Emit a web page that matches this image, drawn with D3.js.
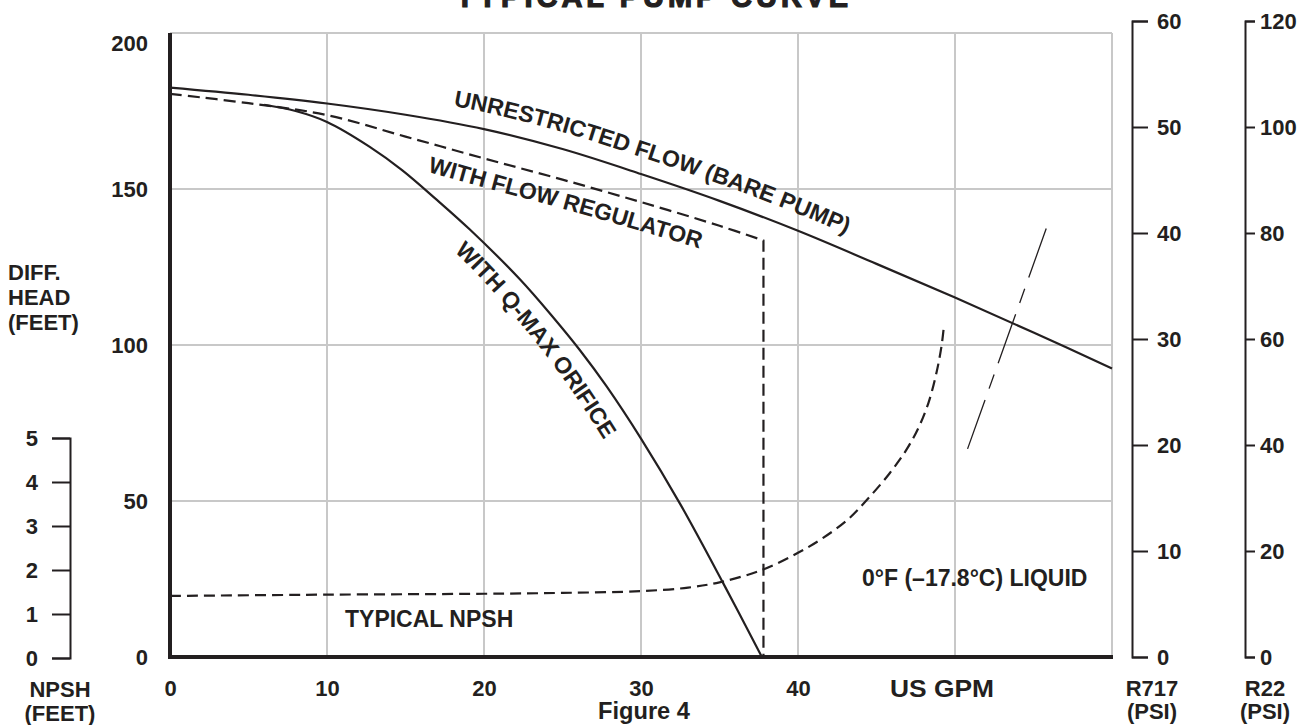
<!DOCTYPE html>
<html>
<head>
<meta charset="utf-8">
<script src="https://cdn.jsdelivr.net/npm/d3@7"></script>
<style>
  html, body { margin: 0; padding: 0; background: #fff; }
  svg { display: block; }
  text { font-family: "Liberation Sans", Arial, sans-serif; font-weight: bold; fill: #231f20; }
</style>
</head>
<body>
<svg id="chart" width="1315" height="725"></svg>
<script>
// values: [US GPM, head in feet] / [US GPM, NPSH in feet]
const gpmTicks = [0, 10, 20, 30, 40];
const headTicks = [0, 50, 100, 150, 200];
const npshTicks = [0, 1, 2, 3, 4, 5];
const r717Ticks = [0, 10, 20, 30, 40, 50, 60];
const r22Ticks = [0, 20, 40, 60, 80, 100, 120];

const unrestricted = [[0, 182.5], [5, 180.2], [10, 177.4], [15, 173.8], [20, 169.2], [25, 162.8], [30, 154.8],
  [35, 146.2], [40, 136.6], [45, 126], [50, 115.2], [55, 104], [60, 92.5]];
const regulator = [[0, 180.5], [5, 177.5], [10, 173.7], [15, 166.8], [20, 159.8], [25, 153], [30, 145.8],
  [35, 138.2], [37.8, 133.5]];
const regulatorCutoff = 37.8;
const qmax = [[6, 177], [8, 175], [10, 171.5], [12.7, 163.6], [14.8, 156], [17, 146.5], [19.1, 137],
  [22.3, 121], [24.4, 108.9], [26.1, 98.4], [27.8, 86.8], [30, 70], [32.5, 49], [35.2, 24], [37.7, 0]];
const npsh = [[0, 1.41], [10, 1.44], [20, 1.46], [25, 1.48], [30, 1.52], [33, 1.6], [35, 1.72],
  [37.7, 2.0], [40, 2.39], [41.6, 2.73], [43.15, 3.14], [44.38, 3.59], [45.84, 4.2], [46.9, 4.73],
  [47.67, 5.23], [48.31, 5.8], [48.83, 6.5], [49.15, 7.11], [49.3, 7.57]];
const cutoffLine = [[50.8, 66.7], [56, 140]];

const ink = '#231f20';
const gridColor = '#c8c8c8';

const svg = d3.select('#chart');

const x = d3.scaleLinear().domain([0, 60]).range([170, 1112]);
const y = d3.scaleLinear().domain([0, 200]).range([657, 33]);
const yNpsh = d3.scaleLinear().domain([0, 5]).range([658, 438]);
const yR717 = d3.scaleLinear().domain([0, 60]).range([657, 21]);
const yR22 = d3.scaleLinear().domain([0, 120]).range([657, 21]);

// title (clipped at top edge like the original)
svg.append('text')
  .attr('x', 652).attr('y', 7)
  .attr('text-anchor', 'middle')
  .attr('font-size', 29)
  .attr('stroke', ink).attr('stroke-width', 1.2)
  .attr('textLength', 392).attr('lengthAdjust', 'spacing')
  .text('TYPICAL  PUMP  CURVE');

// grid
const grid = svg.append('g').attr('stroke', gridColor).attr('stroke-width', 2);
grid.selectAll('.vg').data(d3.range(10, 61, 10)).enter().append('line')
  .attr('x1', d => x(d)).attr('x2', d => x(d))
  .attr('y1', y(200)).attr('y2', y(0));
grid.selectAll('.hg').data([50, 100, 150, 200]).enter().append('line')
  .attr('x1', x(0)).attr('x2', x(60))
  .attr('y1', d => y(d)).attr('y2', d => y(d));

// curves
const smooth = d3.curveCatmullRom.alpha(0.5);
const headLine = d3.line().x(d => x(d[0])).y(d => y(d[1])).curve(smooth);
const npshLine = d3.line().x(d => x(d[0])).y(d => yNpsh(d[1])).curve(smooth);

const curves = svg.append('g').attr('fill', 'none').attr('stroke', ink).attr('stroke-width', 2.2);

curves.append('path').attr('d', headLine(unrestricted));
curves.append('path')
  .attr('d', headLine(regulator) + 'L' + x(regulatorCutoff) + ',' + y(0))
  .attr('stroke-dasharray', '12 6');
curves.append('path').attr('d', headLine(qmax));
curves.append('path').attr('d', npshLine(npsh)).attr('stroke-dasharray', '11 6');
curves.append('path')
  .attr('d', d3.line().x(d => x(d[0])).y(d => y(d[1]))(cutoffLine))
  .attr('stroke-width', 1.3)
  .attr('stroke-dasharray', '52 12 15 12');

// labels that follow the curves
const defs = svg.append('defs');
function curveLabel(id, pts, dx, dy, startX, label) {
  const p = d3.line().curve(smooth)(pts.map(d => [x(d[0]) + dx, y(d[1]) + dy]));
  const node = defs.append('path').attr('id', id).attr('d', p).node();
  const total = node.getTotalLength();
  let off = 0;
  for (let l = 0; l <= total; l += 0.5) {
    if (node.getPointAtLength(l).x >= startX) { off = l; break; }
  }
  svg.append('text').attr('font-size', 23)
    .append('textPath').attr('href', '#' + id).attr('startOffset', off)
    .text(label);
}
curveLabel('lblUnres', unrestricted, 0, -17, 453, 'UNRESTRICTED FLOW (BARE PUMP)');
curveLabel('lblReg', regulator, 0, 29, 427, 'WITH FLOW REGULATOR');
curveLabel('lblQmax', qmax, -38, 0, 454, 'WITH Q-MAX ORIFICE');

svg.append('text').attr('x', 345).attr('y', 627).attr('font-size', 23).text('TYPICAL NPSH');
svg.append('text').attr('x', 862).attr('y', 586).attr('font-size', 23).text('0°F (–17.8°C) LIQUID');

// main axes: thick left and bottom lines
svg.append('line').attr('x1', x(0)).attr('x2', x(0)).attr('y1', y(200)).attr('y2', y(0) + 2)
  .attr('stroke', ink).attr('stroke-width', 4);
svg.append('line').attr('x1', x(0) - 2).attr('x2', x(60) + 1).attr('y1', y(0)).attr('y2', y(0))
  .attr('stroke', ink).attr('stroke-width', 4);

const xAxis = svg.append('g')
  .attr('transform', `translate(0,${y(0)})`)
  .call(d3.axisBottom(x).tickValues(gpmTicks).tickSize(0).tickPadding(23));
xAxis.select('.domain').remove();
xAxis.selectAll('text').attr('font-size', 22).attr('fill', ink);

svg.append('text').attr('x', x(50) - 13).attr('y', 697).attr('text-anchor', 'middle')
  .attr('font-size', 23).attr('textLength', 104).attr('lengthAdjust', 'spacingAndGlyphs')
  .text('US GPM');
svg.append('text').attr('x', x(30) + 3).attr('y', 719).attr('text-anchor', 'middle')
  .attr('font-size', 23).attr('textLength', 92).attr('lengthAdjust', 'spacingAndGlyphs')
  .text('Figure 4');

const yAxis = svg.append('g')
  .attr('transform', `translate(${x(0)},0)`)
  .call(d3.axisLeft(y).tickValues(headTicks).tickSize(0).tickPadding(22));
yAxis.select('.domain').remove();
yAxis.selectAll('text').attr('font-size', 22).attr('fill', ink)
  .attr('dy', d => d === 200 ? '0.8em' : '0.32em');

const headTitle = svg.append('text').attr('x', 8).attr('font-size', 22);
['DIFF.', 'HEAD', '(FEET)'].forEach((t, i) => {
  headTitle.append('tspan').attr('x', 8).attr('y', 280 + i * 25).text(t);
});

// NPSH scale on the left
function styleAxis(g, size) {
  g.select('.domain').attr('stroke', ink).attr('stroke-width', 2);
  g.selectAll('.tick line').attr('stroke', ink).attr('stroke-width', 2);
  g.selectAll('.tick text').attr('font-size', size).attr('fill', ink);
}
const npshAxis = svg.append('g')
  .attr('transform', 'translate(70,0)')
  .call(d3.axisLeft(yNpsh).tickValues(npshTicks).tickFormat(d3.format('d')).tickSize(18).tickPadding(14));
styleAxis(npshAxis, 22);
const npshTitle = svg.append('text').attr('text-anchor', 'middle').attr('font-size', 22);
npshTitle.append('tspan').attr('x', 60).attr('y', 697).text('NPSH');
npshTitle.append('tspan').attr('x', 60).attr('y', 721).text('(FEET)');

// pressure scales on the right
const r717Axis = svg.append('g')
  .attr('transform', 'translate(1132,0)')
  .call(d3.axisRight(yR717).tickValues(r717Ticks).tickSize(16).tickPadding(9));
styleAxis(r717Axis, 22);
const r22Axis = svg.append('g')
  .attr('transform', 'translate(1245,0)')
  .call(d3.axisRight(yR22).tickValues(r22Ticks).tickSize(10).tickPadding(5));
styleAxis(r22Axis, 22);

[[1152, 'R717'], [1265, 'R22']].forEach(([cx, name]) => {
  const t = svg.append('text').attr('text-anchor', 'middle').attr('font-size', 22);
  t.append('tspan').attr('x', cx).attr('y', 696).text(name);
  t.append('tspan').attr('x', cx).attr('y', 719).text('(PSI)');
});
</script>
</body>
</html>
